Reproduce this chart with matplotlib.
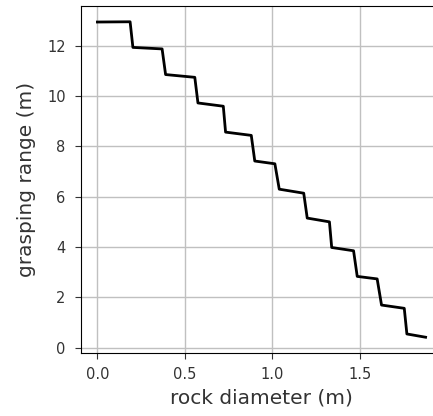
import matplotlib
matplotlib.use("Agg")
import matplotlib.pyplot as plt

# vertices of the stepped curve
rock_diameter = [0.0, 0.187, 0.203, 0.37, 0.39, 0.557, 0.575, 0.72, 0.733, 0.88,
                 0.9, 1.015, 1.04, 1.18, 1.2, 1.327, 1.34, 1.465, 1.486, 1.6,
                 1.625, 1.755, 1.77, 1.877]
grasping_range = [12.95, 12.96, 11.94, 11.88, 10.86, 10.75, 9.73, 9.6, 8.57, 8.44,
                  7.42, 7.31, 6.3, 6.14, 5.15, 5.0, 3.98, 3.85, 2.83, 2.73,
                  1.69, 1.56, 0.54, 0.41]
x_ticks = [0.0, 0.5, 1.0, 1.5]
y_ticks = [0, 2, 4, 6, 8, 10, 12]

fig = plt.figure(figsize=(4.33, 4.16), dpi=100)
ax = fig.add_axes([81/433, 63/416, 361/433, 347/416])
ax.plot(rock_diameter, grasping_range, color='black', linewidth=2)
ax.grid(True, color='#c0c0c0', linewidth=1)
ax.set_axisbelow(True)
ax.set_xticks(x_ticks)
ax.set_yticks(y_ticks)
ax.tick_params(labelsize=10.5, colors='#333333', labelcolor='#333333', length=4.5)
ax.tick_params(axis='x', pad=5.5)
ax.tick_params(axis='y', pad=6.5)
ax.set_xlabel('rock diameter (m)', fontsize=14.5, color='#333333', labelpad=5)
ax.set_ylabel('grasping range (m)', fontsize=14.5, color='#333333', labelpad=8)
fig.savefig('out.png', dpi=100)
